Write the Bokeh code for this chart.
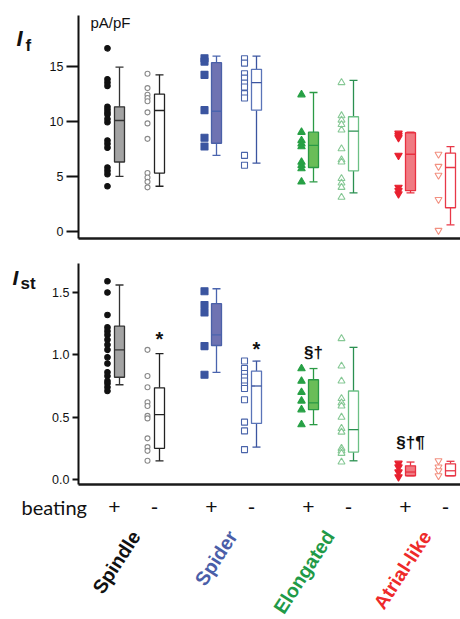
import math
from bokeh.plotting import figure
from bokeh.models import Range1d, FixedTicker, Label, LinearAxis, ColumnDataSource
from bokeh.layouts import column
from bokeh.embed import file_html
from bokeh.resources import INLINE

# ---------------- data ----------------
cell_types = ["Spindle", "Spider", "Elongated", "Atrial-like"]
beating_states = ["+", "-"]

# I_f (pA/pF), groups: Spindle+, Spindle-, Spider+, Spider-, Elongated+, Elongated-, Atrial+, Atrial-
if_spindle_pos = [16.6, 13.8, 13.5, 13.2, 11.3, 11.06, 10.8, 10.6, 10.2, 9.9, 8.25, 7.95, 7.6, 5.8, 5.5, 5.2, 4.1]
if_spindle_neg = [14.3, 13.0, 12.4, 12.1, 11.8, 10.8, 9.8, 8.4, 5.3, 4.9, 4.5, 4.0]
if_spider_pos = [15.7, 15.4, 14.2, 11.0, 8.5, 7.7]
if_spider_neg = [15.66, 15.26, 14.3, 13.9, 13.45, 13.1, 12.5, 12.1, 6.9, 6.0]
if_elong_pos = [12.4, 9.0, 8.25, 7.95, 7.7, 6.3, 6.0, 5.7, 4.5]
if_elong_neg = [13.5, 10.5, 10.1, 9.7, 9.2, 7.5, 6.5, 6.3, 4.8, 4.4, 4.0, 3.1]
if_atrial_pos = [8.9, 8.7, 8.5, 6.9, 4.0, 3.7, 3.4]
if_atrial_neg = [7.0, 5.9, 5.1, 2.9, 0.1]

if_lo = [5.0, 4.1, 6.9, 6.2, 4.5, 3.5, 3.5, 0.6]
if_q1 = [6.3, 5.3, 8.0, 11.0, 5.8, 5.5, 3.7, 2.15]
if_med = [10.06, 10.97, 10.9, 13.5, 7.8, 9.1, 7.0, 5.8]
if_q3 = [11.3, 12.45, 15.3, 14.7, 9.0, 10.4, 8.95, 7.1]
if_hi = [14.9, 14.2, 15.9, 15.9, 12.6, 13.7, 9.0, 7.7]

# I_st
ist_spindle_pos = [1.59, 1.50, 1.32, 1.22, 1.19, 1.16, 1.12, 1.08, 1.04, 0.98, 0.93, 0.86, 0.83, 0.79, 0.77, 0.74, 0.71]
ist_spindle_neg = [1.04, 0.83, 0.74, 0.62, 0.59, 0.51, 0.49, 0.33, 0.26, 0.23, 0.15]
ist_spider_pos = [1.51, 1.40, 1.34, 1.07, 0.84]
ist_spider_neg = [0.95, 0.89, 0.85, 0.82, 0.79, 0.75, 0.73, 0.64, 0.46, 0.39, 0.24]
ist_elong_pos = [0.89, 0.79, 0.70, 0.63, 0.56, 0.44]
ist_elong_neg = [1.13, 0.91, 0.79, 0.65, 0.615, 0.59, 0.50, 0.41, 0.38, 0.25, 0.23, 0.21, 0.14]
ist_atrial_pos = [0.13, 0.10, 0.06, 0.02]
ist_atrial_neg = [0.15, 0.10, 0.07, 0.03]

ist_lo = [0.76, 0.15, 0.86, 0.26, 0.44, 0.15, 0.03, 0.03]
ist_q1 = [0.82, 0.25, 1.075, 0.45, 0.56, 0.22, 0.03, 0.03]
ist_med = [1.04, 0.52, 1.16, 0.75, 0.615, 0.40, 0.06, 0.07]
ist_q3 = [1.23, 0.735, 1.41, 0.87, 0.80, 0.71, 0.11, 0.126]
ist_hi = [1.56, 1.01, 1.53, 0.95, 0.89, 1.06, 0.14, 0.146]

# significance marks on I_st: group index, text, value
sig_groups = [1, 3, 4, 6]
sig_texts = ["*", "*", "§†", "§†¶"]
sig_values = [1.13, 1.05, 1.02, 0.30]

if_points = [if_spindle_pos, if_spindle_neg, if_spider_pos, if_spider_neg,
             if_elong_pos, if_elong_neg, if_atrial_pos, if_atrial_neg]
ist_points = [ist_spindle_pos, ist_spindle_neg, ist_spider_pos, ist_spider_neg,
              ist_elong_pos, ist_elong_neg, ist_atrial_pos, ist_atrial_neg]

# ---------------- styles ----------------
markers = ["circle", "circle", "square", "square", "triangle", "triangle",
           "inverted_triangle", "inverted_triangle"]
msize = [5.5, 5, 7, 6, 7.5, 7, 7.5, 7]
mfill = ["#111111", "white", "#3b55a0", "white", "#27a045", "white", "#e8202f", "white"]
mline = ["#111111", "#8a8a8a", "#3b55a0", "#4a64aa", "#27a045", "#86c895", "#e8202f", "#f29080"]
bfill = ["#a3a3a3", "white", "#6f73b2", "white", "#6abd58", "white", "#f07a82", "white"]
bline = ["#333333", "#222222", "#4a60a8", "#5a74b8", "#2a9a45", "#6cc085", "#e83040", "#e83848"]
wcol = ["#333333", "#222222", "#4a64ae", "#3b55a0", "#2a9a45", "#2a9050", "#e83040", "#e83848"]
cat_colors = ["#111111", "#4a5ea8", "#1f9a48", "#ee2a2a"]
FONT = "Liberation Sans"
AXIS_X = 78


def label_x(g):
    return 114 + (g // 2) * 97 + (g % 2) * 40


def box_x(g):
    return label_x(g) + 5


def dot_x(g):
    return label_x(g) - 7


def make_fig(h, view_y, axis_y, ticks, tick_len, fmt):
    p = figure(width=460, height=h, x_range=Range1d(0, 460), y_range=Range1d(*view_y),
               output_backend="svg", toolbar_location=None, x_axis_location=None,
               y_axis_location=None, min_border=0, background_fill_color="white",
               border_fill_color="white")
    p.grid.visible = False
    p.outline_line_color = None
    xa = LinearAxis(ticker=FixedTicker(ticks=[]), major_tick_out=0, major_tick_in=0,
                    minor_tick_out=0, minor_tick_in=0, major_label_standoff=0,
                    major_label_text_font_size="0px", axis_line_width=2.5,
                    axis_line_color="#1a1a1a", fixed_location=axis_y[0],
                    bounds=(AXIS_X, 460))
    p.add_layout(xa, "below")
    ya = LinearAxis(ticker=FixedTicker(ticks=ticks), fixed_location=AXIS_X,
                    bounds=axis_y)
    ya.major_label_overrides = {t: fmt(t) for t in ticks}
    ya.axis_line_width = 2
    ya.axis_line_color = "#111111"
    ya.major_tick_line_width = 2
    ya.major_tick_line_color = "#111111"
    ya.major_tick_out = tick_len
    ya.major_tick_in = 0
    ya.minor_tick_line_color = None
    ya.major_label_text_font = FONT
    ya.major_label_text_font_size = "12.5px"
    ya.major_label_text_color = "#111111"
    ya.major_label_standoff = 3
    p.add_layout(ya, "left")
    return p


def draw_panel(p, points, lo, q1, med, q3, hi):
    bw, cw = 10, 8
    n = len(points)
    bx = [box_x(g) for g in range(n)]
    src = ColumnDataSource(dict(x=bx, q1=q1, q3=q3, lo=lo, hi=hi, med=med,
                                fill=bfill[:n], line=bline[:n], wc=wcol[:n],
                                x0=[x - bw / 2 for x in bx], x1=[x + bw / 2 for x in bx],
                                c0=[x - cw / 2 for x in bx], c1=[x + cw / 2 for x in bx]))
    p.segment(x0="x", y0="q3", x1="x", y1="hi", line_color="wc", line_width=1.3, source=src)
    p.segment(x0="x", y0="lo", x1="x", y1="q1", line_color="wc", line_width=1.3, source=src)
    p.segment(x0="c0", y0="hi", x1="c1", y1="hi", line_color="wc", line_width=1.3, source=src)
    p.segment(x0="c0", y0="lo", x1="c1", y1="lo", line_color="wc", line_width=1.3, source=src)
    p.vbar(x="x", width=bw, top="q3", bottom="q1", fill_color="fill", line_color="line",
           line_width=1.3, source=src)
    p.segment(x0="x0", y0="med", x1="x1", y1="med", line_color="wc", line_width=1.3, source=src)

    xs, ys, mk, sz, fc, lc = [], [], [], [], [], []
    for g, vals in enumerate(points):
        for v in vals:
            xs.append(dot_x(g)); ys.append(v); mk.append(markers[g]); sz.append(msize[g])
            fc.append(mfill[g]); lc.append(mline[g])
    psrc = ColumnDataSource(dict(x=xs, y=ys, m=mk, s=sz, f=fc, l=lc))
    p.scatter(x="x", y="y", marker="m", size="s", fill_color="f", line_color="l",
              line_width=1.1, source=psrc)


def lab(p, x, y, text, size, color="#111111", style="normal", font=FONT,
        align="left", baseline="alphabetic", angle=0.0):
    p.add_layout(Label(x=x, y=y, text=text, text_font_size=f"{size}px", text_color=color,
                       text_font_style=style, text_font=font, text_align=align,
                       text_baseline=baseline, angle=angle))


# ---------------- top panel: I_f ----------------
top = make_fig(245, (-1.27, 20.94), (-0.63, 19.57), [0, 5, 10, 15], 12, lambda t: f"{t:d}")
draw_panel(top, if_points, if_lo, if_q1, if_med, if_q3, if_hi)
lab(top, 16, 17.5, "I", 22, style="bold italic")
lab(top, 25, 16.86, "f", 17, style="bold")
lab(top, 90, 18.95, "pA/pF", 15)

# ---------------- bottom panel: I_st ----------------
bot = make_fig(374, (-1.123, 1.877), (-0.04, 1.732), [0.0, 0.5, 1.0, 1.5], 6,
               lambda t: f"{t:.1f}")
draw_panel(bot, ist_points, ist_lo, ist_q1, ist_med, ist_q3, ist_hi)
lab(bot, 12, 1.62, "I", 21, style="bold italic")
lab(bot, 20, 1.572, "st", 17, style="bold")

for g, t, v in zip(sig_groups, sig_texts, sig_values):
    lab(bot, box_x(g), v, t, 17 if t != "*" else 20, style="bold",
        align="center", baseline="middle")

lab(bot, 21, -0.217, "beating", 20, font="Lato", baseline="middle")
for g in range(8):
    lab(bot, label_x(g), -0.217, beating_states[g % 2], 21, align="center", baseline="middle")

for c, name in enumerate(cell_types):
    cx = (label_x(2 * c) + label_x(2 * c + 1)) / 2
    lab(bot, cx + 1, -0.425, name, 19.5, color=cat_colors[c], style="bold", align="right",
        baseline="middle", angle=math.radians(57))

layout = column(top, bot, spacing=0)
open("out.html", "w").write(file_html(layout, INLINE))
